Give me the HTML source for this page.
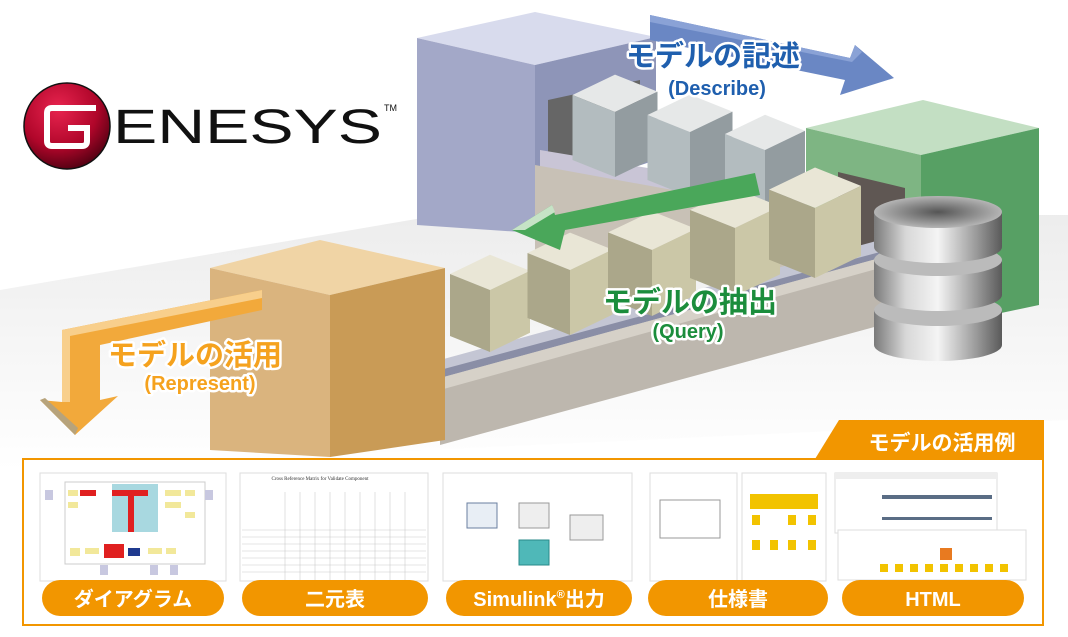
<!DOCTYPE html>
<html><head><meta charset="utf-8">
<style>
html,body{margin:0;padding:0;background:#fff;}
body{width:1068px;height:637px;overflow:hidden;position:relative;font-family:"Liberation Sans","Noto Sans CJK JP",sans-serif;}
svg{position:absolute;left:0;top:0;}
</style></head><body>
<svg id="s" width="1068" height="637" viewBox="0 0 1068 637" xmlns="http://www.w3.org/2000/svg">
<defs>
<radialGradient id="red" cx="0.4" cy="0.3" r="0.75"><stop offset="0" stop-color="#e8244f"/><stop offset="0.6" stop-color="#b0062a"/><stop offset="1" stop-color="#4a0010"/></radialGradient>
<linearGradient id="floor" x1="0" y1="0" x2="0" y2="1"><stop offset="0" stop-color="#e8e8e8"/><stop offset="1" stop-color="#ffffff"/></linearGradient>
<linearGradient id="cyl" x1="0" x2="1"><stop offset="0" stop-color="#7a7a7a"/><stop offset="0.25" stop-color="#d8d8d8"/><stop offset="0.5" stop-color="#f4f4f4"/><stop offset="0.8" stop-color="#9a9a9a"/><stop offset="1" stop-color="#5a5a5a"/></linearGradient>
<radialGradient id="cyltop" cx="0.5" cy="0.5" r="0.6"><stop offset="0" stop-color="#555"/><stop offset="1" stop-color="#c8c8c8"/></radialGradient>
</defs>
<polygon points="0,290 440,215 1068,215 1068,420 0,470" fill="url(#floor)" opacity="0.8"/>
<polygon points="417,38 535,12 656,37 535,65" fill="#d8dbed"/>
<polygon points="417,38 535,65 535,233 417,225" fill="#a3a8c8"/>
<polygon points="535,65 656,37 656,160 535,200" fill="#8e95b8"/>
<polygon points="548,100 640,80 640,150 548,170" fill="#666"/>
<polygon points="540,150 810,195 810,225 540,180" fill="#c9c5d6"/>
<polygon points="535,165 810,215 810,300 535,250" fill="#c8c1b6"/>
<polygon points="650,15 850,58 855,45 894,78 840,95 845,80 650,40" fill="#6a87c4"/>
<polygon points="650,15 850,58 855,45 862,52 852,62 650,22" fill="#8aa2d6"/>
<polygon points="806,128 923,100 1039,128 921,155" fill="#c3dfc3"/>
<polygon points="806,128 921,155 921,300 806,280" fill="#7eb583"/>
<polygon points="921,155 1039,128 1039,305 921,330" fill="#57a064"/>
<polygon points="838,172 905,188 905,255 838,240" fill="#5f5753"/>
<polygon points="440,360 880,240 880,260 440,380" fill="#c4c6d4"/>
<polygon points="440,370 880,252 880,258 440,378" fill="#8a8ea6"/>
<polygon points="440,378 880,258 900,320 440,445" fill="#bdb7ae"/>
<polygon points="440,378 880,258 880,268 440,390" fill="#d6d1c8"/>
<g id="cubes"></g>
<polygon points="755,173 760,195 565,230 560,250 512,230 552,205 555,215" fill="#4aa75a"/>
<polygon points="512,230 552,205 555,212 525,230" fill="#c6e3c6"/>
<g id="db"></g>
<polygon points="210,268 320,240 445,268 330,295" fill="#f0d4a5"/>
<polygon points="210,268 330,295 330,457 210,450" fill="#dab47e"/>
<polygon points="330,295 445,268 445,440 330,457" fill="#c99b56"/>
<polygon points="262,290 262,310 100,345 100,400 118,396 75,435 40,400 62,402 62,330" fill="#f2a93b"/>
<polygon points="62,330 262,290 262,298 70,336 70,402 62,402" fill="#f8cf8c"/>
<polygon points="75,435 40,400 45,398 78,428" fill="#b7a37b"/>
<g font-weight="bold" text-anchor="middle" stroke="#fff" stroke-width="5" paint-order="stroke" stroke-linejoin="round">
<text x="713" y="66" font-size="29" fill="#1f5fae">モデルの記述</text>
<text x="717" y="95" font-size="20" fill="#1f5fae">(Describe)</text>
<text x="690" y="312" font-size="29" fill="#1b8d3c">モデルの抽出</text>
<text x="688" y="338" font-size="20" fill="#1b8d3c">(Query)</text>
<text x="195" y="365" font-size="29" fill="#f5a21e">モデルの活用</text>
<text x="200" y="390" font-size="20" fill="#f5a21e">(Represent)</text>
</g>
<circle cx="67" cy="126" r="43" fill="url(#red)" stroke="#111" stroke-width="1.5"/>
<path d="M96,108 L52,108 Q47,108 47,113 L47,141 Q47,146 52,146 L82,146 Q87,146 87,141 L87,128 L68,128" fill="none" stroke="#fff" stroke-width="6"/>
<text x="113" y="143" font-size="48" font-family="Liberation Sans" textLength="269" lengthAdjust="spacingAndGlyphs" fill="#111">ENESYS</text>
<text x="384" y="111" font-size="9" fill="#111">TM</text>
<polygon points="815,459 839,420 1044,420 1044,459" fill="#f29600"/>
<text x="942" y="450" font-size="21" font-weight="bold" fill="#fff" text-anchor="middle" font-family="Liberation Sans,Noto Sans CJK JP,sans-serif">モデルの活用例</text>
<rect x="23" y="459" width="1020" height="166" fill="#fff" stroke="#f29600" stroke-width="2"/>
<g id="thumbs" fill="#fff" stroke="#ddd">
<rect x="40" y="473" width="186" height="108"/>
<rect x="240" y="473" width="188" height="108"/>
<rect x="443" y="473" width="189" height="108"/>
<rect x="650" y="473" width="87" height="108"/>
<rect x="742" y="473" width="84" height="108"/>
<rect x="835" y="473" width="162" height="60"/>
<rect x="838" y="530" width="188" height="50"/>
</g>
<rect x="65" y="482" width="140" height="82" fill="none" stroke="#ccc"/>
<rect x="112" y="484" width="46" height="48" fill="#a8d8e0"/>
<rect x="80" y="490" width="16" height="6" fill="#e02020"/><rect x="112" y="490" width="16" height="6" fill="#e02020"/><rect x="132" y="490" width="16" height="6" fill="#e02020"/>
<rect x="128" y="490" width="6" height="42" fill="#e02020"/>
<rect x="104" y="544" width="20" height="14" fill="#e02020"/><rect x="128" y="548" width="12" height="8" fill="#1f3a8f"/>
<g fill="#f2e89a"><rect x="68" y="490" width="10" height="6"/><rect x="68" y="502" width="10" height="6"/><rect x="165" y="490" width="16" height="6"/><rect x="165" y="502" width="16" height="6"/><rect x="185" y="490" width="10" height="6"/><rect x="185" y="512" width="10" height="6"/><rect x="70" y="548" width="10" height="8"/><rect x="85" y="548" width="14" height="6"/><rect x="148" y="548" width="14" height="6"/><rect x="166" y="548" width="10" height="6"/></g>
<g fill="#c8c8e0"><rect x="45" y="490" width="8" height="10"/><rect x="205" y="490" width="8" height="10"/><rect x="100" y="565" width="8" height="10"/><rect x="150" y="565" width="8" height="10"/><rect x="170" y="565" width="8" height="10"/></g>
<text x="320" y="480" font-size="5" text-anchor="middle" fill="#333" font-family="Liberation Serif">Cross Reference Matrix for Validate Component</text>
<g stroke="#ccc" stroke-width="0.6">
<line x1="242" y1="530" x2="426" y2="530"/><line x1="242" y1="537" x2="426" y2="537"/><line x1="242" y1="544" x2="426" y2="544"/><line x1="242" y1="551" x2="426" y2="551"/><line x1="242" y1="558" x2="426" y2="558"/><line x1="242" y1="565" x2="426" y2="565"/><line x1="242" y1="572" x2="426" y2="572"/>
<line x1="285" y1="492" x2="285" y2="580"/><line x1="300" y1="492" x2="300" y2="580"/><line x1="315" y1="492" x2="315" y2="580"/><line x1="330" y1="492" x2="330" y2="580"/><line x1="345" y1="492" x2="345" y2="580"/><line x1="360" y1="492" x2="360" y2="580"/><line x1="375" y1="492" x2="375" y2="580"/><line x1="390" y1="492" x2="390" y2="580"/><line x1="405" y1="492" x2="405" y2="580"/>
</g>
<rect x="467" y="503" width="30" height="25" fill="#e8eef5" stroke="#6a7fa0"/>
<rect x="519" y="503" width="30" height="25" fill="#eee" stroke="#999"/>
<rect x="570" y="515" width="33" height="25" fill="#eee" stroke="#999"/>
<rect x="519" y="540" width="30" height="25" fill="#4fb8b8" stroke="#2a8a8a"/>
<rect x="660" y="500" width="60" height="38" fill="none" stroke="#999"/>
<rect x="750" y="494" width="68" height="15" fill="#f2c300"/>
<g fill="#f2c300"><rect x="752" y="515" width="8" height="10"/><rect x="788" y="515" width="8" height="10"/><rect x="808" y="515" width="8" height="10"/><rect x="752" y="540" width="8" height="10"/><rect x="770" y="540" width="8" height="10"/><rect x="788" y="540" width="8" height="10"/><rect x="808" y="540" width="8" height="10"/></g>
<rect x="835" y="473" width="162" height="6" fill="#eee"/><rect x="882" y="495" width="110" height="4" fill="#5a6d85"/><rect x="882" y="517" width="110" height="3" fill="#5a6d85"/>
<rect x="940" y="548" width="12" height="12" fill="#e87a20"/>
<g fill="#f2c300"><rect x="880" y="564" width="8" height="8"/><rect x="895" y="564" width="8" height="8"/><rect x="910" y="564" width="8" height="8"/><rect x="925" y="564" width="8" height="8"/><rect x="940" y="564" width="8" height="8"/><rect x="955" y="564" width="8" height="8"/><rect x="970" y="564" width="8" height="8"/><rect x="985" y="564" width="8" height="8"/><rect x="1000" y="564" width="8" height="8"/></g>
<g fill="#f29600">
<rect x="42" y="580" width="182" height="36" rx="18"/>
<rect x="242" y="580" width="186" height="36" rx="18"/>
<rect x="446" y="580" width="186" height="36" rx="18"/>
<rect x="648" y="580" width="180" height="36" rx="18"/>
<rect x="842" y="580" width="182" height="36" rx="18"/>
</g>
<g fill="#fff" font-size="20" font-weight="bold" text-anchor="middle">
<text x="133" y="606">ダイアグラム</text>
<text x="335" y="606">二元表</text>
<text x="539" y="606">Simulink<tspan font-size="11" dy="-8">®</tspan><tspan dy="8">出力</tspan></text>
<text x="738" y="606">仕様書</text>
<text x="933" y="606">HTML</text>
</g>
</svg>
<script>
var ns="http://www.w3.org/2000/svg";
function P(g,pts,c){var p=document.createElementNS(ns,"polygon");p.setAttribute("points",pts);p.setAttribute("fill",c);g.appendChild(p);}
function cube(g,x,y,w,h,top,l,r){
 var a=w*0.5,b=w*0.5,d=w*0.2;
 P(g,[x-a,y-d,x,y,x+b,y-d*1.2,x+b-a,y-2.2*d].join(","),top);
 P(g,[x-a,y-d,x,y,x,y+h,x-a,y+h-d].join(","),l);
 P(g,[x,y,x+b,y-d*1.2,x+b,y+h-d*1.2,x,y+h].join(","),r);
}
var cg=document.getElementById("cubes");
cube(cg,615,112,85,65,"#e6e8e8","#b3bcbf","#939ca0");
cube(cg,690,132,85,65,"#e6e8e8","#b3bcbf","#939ca0");
cube(cg,765,150,80,62,"#e6e8e8","#b3bcbf","#939ca0");
cube(cg,490,290,80,62,"#e9e6d6","#aba78a","#cbc7a7");
cube(cg,570,270,85,65,"#e9e6d6","#aba78a","#cbc7a7");
cube(cg,652,250,88,66,"#e9e6d6","#aba78a","#cbc7a7");
cube(cg,735,228,90,68,"#e9e6d6","#aba78a","#cbc7a7");
cube(cg,815,208,92,70,"#e9e6d6","#aba78a","#cbc7a7");
var dg=document.getElementById("db");
[330,280,232].forEach(function(y,i){
 var e=document.createElementNS(ns,"path");
 e.setAttribute("d","M874,"+(y-20)+" L874,"+(y+15)+" A64,16 0 0 0 1002,"+(y+15)+" L1002,"+(y-20)+" Z");
 e.setAttribute("fill","url(#cyl)");dg.appendChild(e);
 var t=document.createElementNS(ns,"ellipse");
 t.setAttribute("cx",938);t.setAttribute("cy",y-20);t.setAttribute("rx",64);t.setAttribute("ry",16);
 t.setAttribute("fill",i==2?"url(#cyltop)":"#bbb");dg.appendChild(t);
});
</script>
</body></html>
